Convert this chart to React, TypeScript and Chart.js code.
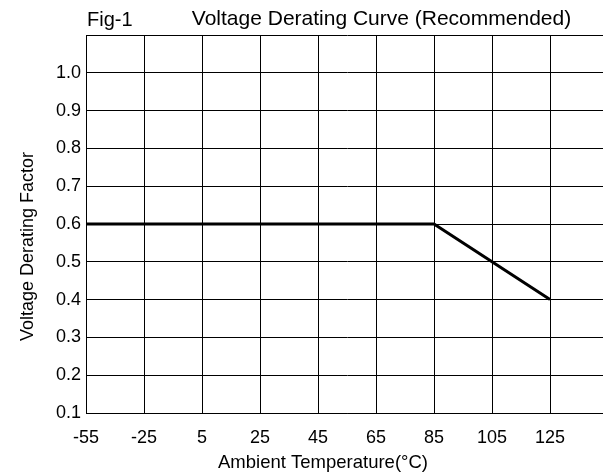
import React, { useEffect, useRef } from "react";
import { Chart, registerables } from "chart.js";

Chart.register(...registerables);

const xTickLabels = [-55, -25, 5, 25, 45, 65, 85, 105, 125];
const yTickValues = [0.1, 0.2, 0.3, 0.4, 0.5, 0.6, 0.7, 0.8, 0.9, 1.0];
const curveTemps = [-55, 85, 125];
const curveFactors = [0.6, 0.6, 0.4];

const figLabel = "Fig-1";
const chartTitle = "Voltage Derating Curve (Recommended)";
const xTitle = "Ambient Temperature(\u00B0C)";
const yTitle = "Voltage Derating Factor";

const FONT = "'Liberation Sans', Arial, Helvetica, sans-serif";

export default function App() {
  const ref = useRef<HTMLCanvasElement | null>(null);

  useEffect(() => {
    const canvas = ref.current;
    if (!canvas) return;

    const textPlugin = {
      id: "customText",
      afterDraw(chart: any) {
        const ctx = chart.ctx as CanvasRenderingContext2D;
        ctx.save();
        ctx.fillStyle = "#000";
        ctx.textBaseline = "alphabetic";
        ctx.font = `20px ${FONT}`;
        ctx.textAlign = "left";
        ctx.fillText(figLabel, 87, 26);
        ctx.font = `21px ${FONT}`;
        ctx.textAlign = "center";
        ctx.fillText(chartTitle, 381.5, 25);
        ctx.font = `18.5px ${FONT}`;
        ctx.fillText(xTitle, 323, 467.5);
        ctx.translate(32.5, 246.5);
        ctx.rotate(-Math.PI / 2);
        ctx.font = `18px ${FONT}`;
        ctx.fillText(yTitle, 0, 0);
        ctx.restore();
      },
    };

    const chart = new Chart(canvas, {
      type: "line",
      data: {
        datasets: [
          {
            data: curveTemps.map((t, i) => ({ x: xTickLabels.indexOf(t), y: curveFactors[i] })),
            borderColor: "#000",
            borderWidth: 3,
            pointRadius: 0,
            tension: 0,
            fill: false,
          },
        ],
      },
      options: {
        animation: false,
        responsive: false,
        devicePixelRatio: 1,
        layout: { padding: { top: 35, right: 12, left: 0, bottom: 0 } },
        plugins: {
          legend: { display: false },
          title: { display: false },
          tooltip: { enabled: false },
        },
        scales: {
          x: {
            type: "linear",
            min: 0,
            max: xTickLabels.length,
            afterFit(scale: any) {
              scale.height = 59;
              scale.paddingLeft = 0;
              scale.paddingRight = 0;
            },
            ticks: {
              stepSize: 1,
              autoSkip: false,
              maxRotation: 0,
              padding: 14,
              color: "#000",
              font: { family: FONT, size: 18 },
              callback: (v: any) => {
                const i = Math.round(Number(v));
                return i < xTickLabels.length ? String(xTickLabels[i]) : "";
              },
            },
            grid: { color: "#000", lineWidth: 1, drawTicks: false },
            border: { color: "#000", width: 1 },
          },
          y: {
            type: "linear",
            min: 0.1,
            max: 1.1,
            afterFit(scale: any) {
              scale.width = 86;
              scale.paddingTop = 0;
              scale.paddingBottom = 0;
            },
            ticks: {
              stepSize: 0.1,
              padding: 5,
              color: "#000",
              font: { family: FONT, size: 18 },
              callback: (v: any) => {
                const n = Number(v);
                const match = yTickValues.find((t) => Math.abs(t - n) < 1e-6);
                return match !== undefined ? match.toFixed(1) : "";
              },
            },
            grid: { color: "#000", lineWidth: 1, drawTicks: false },
            border: { color: "#000", width: 1 },
          },
        },
      },
      plugins: [textPlugin],
    });

    return () => chart.destroy();
  }, []);

  return (
    <div
      style={{
        position: "fixed",
        left: 0,
        top: 0,
        width: 603,
        height: 472,
        overflow: "hidden",
        background: "#fff",
      }}
    >
      <canvas ref={ref} width={620} height={472} style={{ display: "block" }} />
    </div>
  );
}
